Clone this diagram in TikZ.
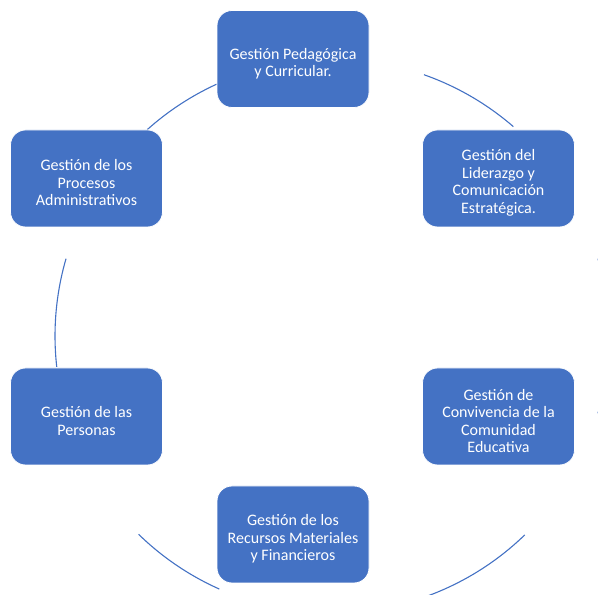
\documentclass[tikz,border=0pt]{standalone}
\usepackage{fontspec}
\setmainfont{Carlito}
\definecolor{boxblue}{HTML}{4472C4}
\begin{document}
\begin{tikzpicture}[x=1pt,y=1pt,
  procbox/.style={draw=white, line width=0.8pt, fill=boxblue, rounded corners=15pt,
    minimum width=152pt, minimum height=97pt},
  boxtext/.style={text=white, align=center, inner sep=0pt,
    font=\fontsize{16}{17.5}\selectfont},
  cyclearc/.style={draw=boxblue, line width=1.1pt}]
\useasboundingbox (0,0) rectangle (598,595);
\clip (0,0) rectangle (598,595);
\coordinate (O) at (332,259);
% arcs of the cycle
\draw[cyclearc] ([shift={(131.8:277pt)}]O) arc[start angle=131.8, end angle=114.6, radius=277pt];
\draw[cyclearc] ([shift={(70.6:277pt)}]O) arc[start angle=70.6, end angle=49.1, radius=277pt];
\draw[cyclearc] ([shift={(16.2:277pt)}]O) arc[start angle=16.2, end angle=-16.2, radius=277pt];
\draw[cyclearc] ([shift={(-45.9:277pt)}]O) arc[start angle=-45.9, end angle=-82, radius=277pt];
\draw[cyclearc] ([shift={(-114:277pt)}]O) arc[start angle=-114, end angle=-134.3, radius=277pt];
\draw[cyclearc] ([shift={(186.4:277pt)}]O) arc[start angle=186.4, end angle=163.8, radius=277pt];
% boxes
\node[procbox] (ped) at (293,536) {};
\node[procbox] (lid) at (498.5,416.5) {};
\node[procbox] (con) at (498.5,178.5) {};
\node[procbox] (rec) at (293,60.5) {};
\node[procbox] (per) at (86.5,178.5) {};
\node[procbox] (adm) at (86.5,416.5) {};
% texts
\node[boxtext] (pedt) at ([yshift=-4.5pt]ped.center) {Gestión Pedagógica\\y Curricular.};
\node[boxtext] (lidt) at ([yshift=-4.5pt]lid.center) {Gestión del\\Liderazgo y\\Comunicación\\Estratégica.};
\node[boxtext] (cont) at ([yshift=-4.5pt]con.center) {Gestión de\\Convivencia de la\\Comunidad\\Educativa};
\node[boxtext] (rect) at ([yshift=-4.5pt]rec.center) {Gestión de los\\Recursos Materiales\\y Financieros};
\node[boxtext] (pert) at ([yshift=-4.5pt]per.center) {Gestión de las\\Personas};
\node[boxtext] (admt) at ([yshift=-4.5pt]adm.center) {Gestión de los\\Procesos\\Administrativos};
\end{tikzpicture}
\end{document}
